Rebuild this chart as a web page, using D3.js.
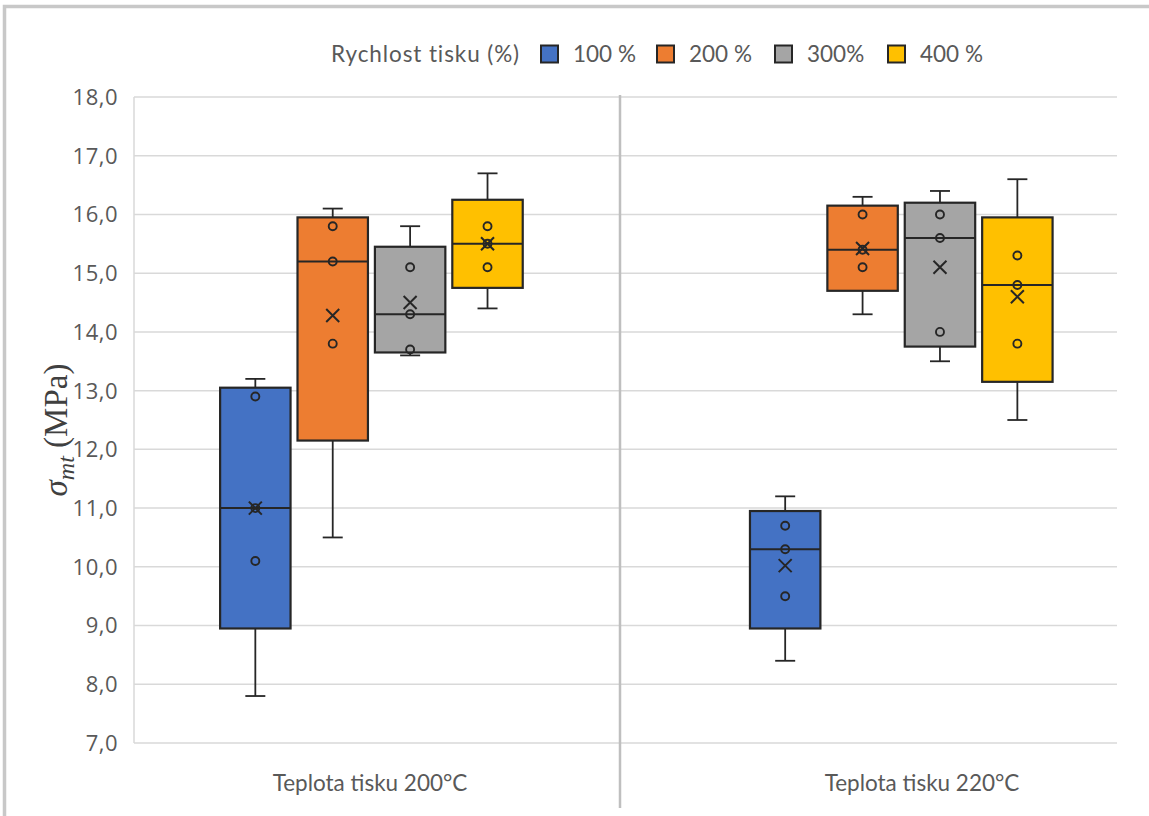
<!DOCTYPE html>
<html>
<head>
<meta charset="utf-8">
<script src="https://cdn.jsdelivr.net/npm/d3@7/dist/d3.min.js"></script>
<style>
  html, body { margin: 0; padding: 0; background: #ffffff; }
  svg { display: block; }
</style>
</head>
<body>
<svg id="chart" width="1149" height="816"></svg>
<script>
// Print temperature groups and print-speed series
const categories = ["Teplota tisku 200°C", "Teplota tisku 220°C"];
const series = ["100 %", "200 %", "300%", "400 %"];
const seriesColors = ["#4472C4", "#ED7D31", "#A5A5A5", "#FFC000"];
const legendTitle = "Rychlost tisku (%)";

// Measured tensile strength (MPa), five specimens per box
const s100 = [[7.8, 10.1, 11.0, 12.9, 13.2], [8.4, 9.5, 10.3, 10.7, 11.2]];
const s200 = [[10.5, 13.8, 15.2, 15.8, 16.1], [14.3, 15.1, 15.4, 16.0, 16.3]];
const s300 = [[13.6, 13.7, 14.3, 15.1, 15.8], [13.5, 14.0, 15.6, 16.0, 16.4]];
const s400 = [[14.4, 15.1, 15.5, 15.8, 16.7], [12.5, 13.8, 14.8, 15.3, 16.6]];
const seriesData = [s100, s200, s300, s400];

// Y axis ticks
const yTicks = [7, 8, 9, 10, 11, 12, 13, 14, 15, 16, 17, 18];

const svg = d3.select("#chart");
const W = 1149, H = 816;
const plot = { left: 134, right: 1117, top: 97, bottom: 743 };

const y = d3.scaleLinear().domain([7, 18]).range([plot.bottom, plot.top]);
const groupX = d3.scaleBand().domain(categories).range([106.5, 1166.2]);
const seriesX = d3.scaleBand().domain(series)
  .range([-groupX.bandwidth() / 2, groupX.bandwidth() / 2])
  .paddingInner(0.09).paddingOuter(1.468);
const labelX = d3.scalePoint().domain(categories).range([370, 922]);

const locale = d3.formatLocale({ decimal: ",", thousands: " ", grouping: [3], currency: ["", " Kč"] });
const fmt = locale.format(".1f");

// Exclusive-method quartiles
function quart(sorted, p) {
  const n = sorted.length;
  const pos = p * (n + 1) - 1;
  const lo = Math.floor(pos), hi = Math.ceil(pos);
  if (lo < 0) return sorted[0];
  if (hi >= n) return sorted[n - 1];
  return sorted[lo] + (sorted[hi] - sorted[lo]) * (pos - lo);
}

// Outer frame
svg.append("path")
  .attr("d", `M4.5,${H + 5} L4.5,6.5 L${W + 5},6.5`)
  .attr("fill", "none").attr("stroke", "#c8c8c8").attr("stroke-width", 3.5);

// Gridlines
svg.append("g").selectAll("line").data(yTicks).join("line")
  .attr("x1", plot.left).attr("x2", plot.right)
  .attr("y1", d => y(d)).attr("y2", d => y(d))
  .attr("stroke", "#d9d9d9").attr("stroke-width", 1.5);
svg.append("line")
  .attr("x1", plot.left).attr("x2", plot.left)
  .attr("y1", y(18)).attr("y2", y(7))
  .attr("stroke", "#d9d9d9").attr("stroke-width", 1.5);

// Y tick labels
svg.append("g").selectAll("text").data(yTicks).join("text")
  .attr("x", 118).attr("y", d => y(d))
  .attr("dy", "0.36em")
  .attr("text-anchor", "end")
  .attr("font-family", "'Open Sans', sans-serif")
  .attr("font-size", 22)
  .attr("letter-spacing", 0.5)
  .attr("fill", "#595959")
  .text(d => fmt(d));

// Group separator
svg.append("line")
  .attr("x1", 620).attr("x2", 620).attr("y1", 95).attr("y2", 808)
  .attr("stroke", "#bfbfbf").attr("stroke-width", 2.5);

// Category labels
svg.append("g").selectAll("text").data(categories).join("text")
  .attr("x", d => labelX(d)).attr("y", 791)
  .attr("text-anchor", "middle")
  .attr("font-family", "Lato, sans-serif")
  .attr("font-size", 22.5)
  .attr("fill", "#595959")
  .text(d => d);

// Y axis title
const yt = svg.append("text")
  .attr("transform", "translate(67,430) rotate(-90)")
  .attr("text-anchor", "middle")
  .attr("font-family", "'Liberation Serif', 'Times New Roman', serif")
  .attr("font-size", 33)
  .attr("fill", "#404040");
yt.append("tspan").attr("font-style", "italic").text("σ");
yt.append("tspan").attr("font-style", "italic").attr("font-size", 24).attr("dy", 7).text("mt");
yt.append("tspan").attr("dy", -7).text(" (MPa)");

// Boxes
const stroke = "#262626";
const boxes = [];
series.forEach((s, si) => {
  categories.forEach((c, ci) => {
    const vals = seriesData[si][ci].slice().sort((a, b) => a - b);
    boxes.push({
      s, si, c,
      vals,
      min: vals[0], max: vals[vals.length - 1],
      q1: quart(vals, 0.25), med: quart(vals, 0.5), q3: quart(vals, 0.75),
      mean: d3.mean(vals),
      cx: groupX(c) + groupX.bandwidth() / 2 + seriesX(s) + seriesX.bandwidth() / 2
    });
  });
});

const bw = seriesX.bandwidth();
const capW = 20;
const bg = svg.append("g").selectAll("g").data(boxes).join("g");

// Whiskers
bg.append("line").attr("x1", d => d.cx).attr("x2", d => d.cx)
  .attr("y1", d => y(d.max)).attr("y2", d => y(d.q3))
  .attr("stroke", stroke).attr("stroke-width", 1.8);
bg.append("line").attr("x1", d => d.cx).attr("x2", d => d.cx)
  .attr("y1", d => y(d.q1)).attr("y2", d => y(d.min))
  .attr("stroke", stroke).attr("stroke-width", 1.8);
bg.append("line").attr("x1", d => d.cx - capW / 2).attr("x2", d => d.cx + capW / 2)
  .attr("y1", d => y(d.max)).attr("y2", d => y(d.max))
  .attr("stroke", stroke).attr("stroke-width", 1.8);
bg.append("line").attr("x1", d => d.cx - capW / 2).attr("x2", d => d.cx + capW / 2)
  .attr("y1", d => y(d.min)).attr("y2", d => y(d.min))
  .attr("stroke", stroke).attr("stroke-width", 1.8);

// Box body
bg.append("rect")
  .attr("x", d => d.cx - bw / 2).attr("width", bw)
  .attr("y", d => y(d.q3)).attr("height", d => y(d.q1) - y(d.q3))
  .attr("fill", d => seriesColors[d.si])
  .attr("stroke", stroke).attr("stroke-width", 2.2);

// Median
bg.append("line").attr("x1", d => d.cx - bw / 2).attr("x2", d => d.cx + bw / 2)
  .attr("y1", d => y(d.med)).attr("y2", d => y(d.med))
  .attr("stroke", stroke).attr("stroke-width", 2);

// Inner points
bg.each(function (d) {
  d3.select(this).selectAll("circle").data(d.vals.slice(1, -1)).join("circle")
    .attr("cx", d.cx).attr("cy", v => y(v)).attr("r", 4)
    .attr("fill", "none").attr("stroke", stroke).attr("stroke-width", 1.9);
});

// Mean marker
const mk = 6.5;
bg.append("path")
  .attr("d", d => `M${d.cx - mk},${y(d.mean) - mk}L${d.cx + mk},${y(d.mean) + mk}M${d.cx - mk},${y(d.mean) + mk}L${d.cx + mk},${y(d.mean) - mk}`)
  .attr("stroke", stroke).attr("stroke-width", 2).attr("fill", "none");

// Legend
const lg = svg.append("g");
lg.append("text").attr("x", 520).attr("y", 54).attr("dy", "0.35em")
  .attr("text-anchor", "end")
  .attr("font-family", "Lato, sans-serif").attr("font-size", 22.5)
  .attr("letter-spacing", 0.9).attr("fill", "#595959")
  .text(legendTitle);
const legendX = [541, 657, 775, 888];
const items = lg.selectAll("g.item").data(series).join("g").attr("class", "item")
  .attr("transform", (d, i) => `translate(${legendX[i]},54)`);
items.append("rect").attr("x", 0).attr("y", -8.5).attr("width", 17).attr("height", 17)
  .attr("fill", (d, i) => seriesColors[i]).attr("stroke", stroke).attr("stroke-width", 2);
items.append("text").attr("x", 32).attr("y", 0).attr("dy", "0.35em")
  .attr("font-family", "Lato, sans-serif").attr("font-size", 22.5).attr("fill", "#595959")
  .text(d => d);
</script>
</body>
</html>
